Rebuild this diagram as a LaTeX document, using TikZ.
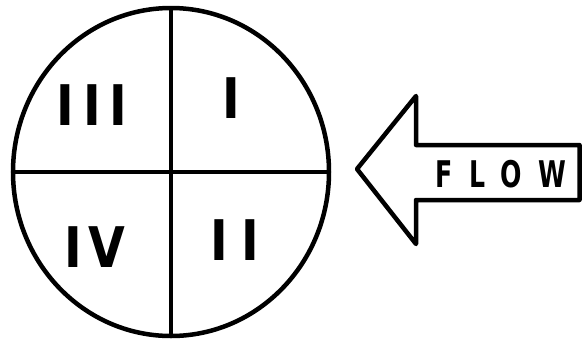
\documentclass[tikz,border=0pt]{standalone}
\usepackage{fontspec}
\newfontfamily\numfont{DejaVu Sans}
\usetikzlibrary{shapes.geometric}
\begin{document}
\begin{tikzpicture}[x=1pt,y=-1pt,line width=4.5pt,
  numeral/.style={font=\numfont\bfseries\fontsize{50}{50}\selectfont,inner sep=0pt,xscale=0.95,yscale=1.12,transform shape},
  flowtext/.style={font=\numfont\bfseries\fontsize{35}{35}\selectfont,inner sep=0pt,xscale=0.72,yscale=1.05,transform shape}]
\useasboundingbox (0,0) rectangle (582,341);
\node[draw,ellipse,minimum width=316pt,minimum height=328pt,inner sep=0pt,outer sep=0pt] (c) at (171,172) {};
\draw (c.north) -- (c.south);
\draw (c.west) -- (c.east);
\node[numeral] (n3) at (92,105) {I\kern9pt I\kern9pt I};
\node[numeral] (n1) at (231,98) {I};
\node[numeral] (n4) at (95,247) {I\kern7pt V};
\node[numeral] (n2) at (235,240) {I\kern14pt I};
\coordinate (rt) at (579.5,145);
\coordinate (st) at (416,145);
\coordinate (ht) at (416,96);
\coordinate (tip) at (357,169);
\coordinate (hb) at (416,244);
\coordinate (sb) at (416,200);
\coordinate (rb) at (579.5,200);
\draw[line join=round] (rt) -- (st) -- (ht) -- (tip) -- (hb) -- (sb) -- (rb) -- cycle;
\node[flowtext] (flow) at (501,174) {F\kern22pt L\kern22pt O\kern22pt W};
\end{tikzpicture}
\end{document}
